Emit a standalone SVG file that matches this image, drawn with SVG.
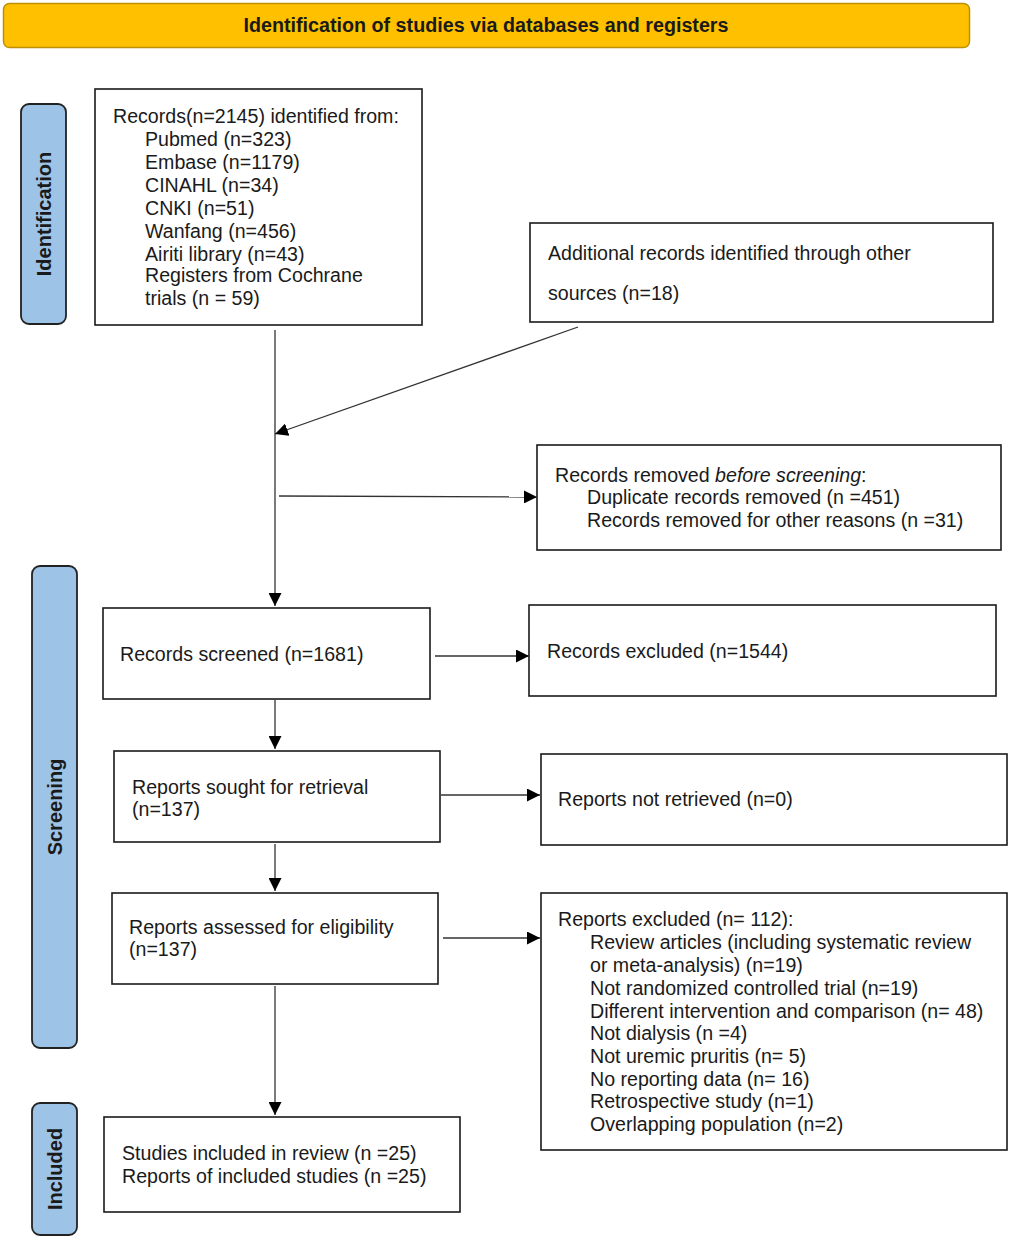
<svg xmlns="http://www.w3.org/2000/svg" width="1010" height="1238" viewBox="0 0 1010 1238">
<style>
text{font-family:"Liberation Sans",Arial,sans-serif;font-size:19.6px;fill:#1a1a1a}
.box{fill:#fff;stroke:#1a1a1a;stroke-width:1.6}
.side{fill:#9DC3E6;stroke:#222;stroke-width:1.8}
.side-t{font-weight:bold;font-size:20px}
.con{stroke:#333;stroke-width:1.3;fill:none;marker-end:url(#ah)}
</style>
<defs>
<marker id="ah" viewBox="0 0 10 10" refX="10" refY="5" markerWidth="13" markerHeight="13" markerUnits="userSpaceOnUse" orient="auto">
<path d="M0,0 L10,5 L0,10 z" fill="#000"/>
</marker>
</defs>
<rect width="1010" height="1238" fill="#fff"/>
<g id="title">
<rect x="3.5" y="3.5" width="966" height="44" rx="6" fill="#FFC000" stroke="#BF9000" stroke-width="1.5"/>
<text x="486" y="32" text-anchor="middle" font-weight="bold" font-size="18" fill="#111" textLength="485" lengthAdjust="spacingAndGlyphs">Identification of studies via databases and registers</text>
</g>
<g id="side-identification">
<rect class="side" x="21" y="104" width="45" height="220" rx="8"/>
<text class="side-t" transform="translate(51,214) rotate(-90)" text-anchor="middle">Identification</text>
</g>
<g id="side-screening">
<rect class="side" x="32" y="566" width="45" height="482" rx="8"/>
<text class="side-t" transform="translate(62,807) rotate(-90)" text-anchor="middle">Screening</text>
</g>
<g id="side-included">
<rect class="side" x="32" y="1103" width="45" height="132" rx="8"/>
<text class="side-t" transform="translate(62,1169) rotate(-90)" text-anchor="middle">Included</text>
</g>
<g id="records">
<rect class="box" x="95" y="89" width="327" height="236"/>
<text x="113" y="123">Records(n=2145) identified from:</text>
<text x="145" y="146">Pubmed (n=323)</text>
<text x="145" y="169">Embase (n=1179)</text>
<text x="145" y="192">CINAHL (n=34)</text>
<text x="145" y="215">CNKI (n=51)</text>
<text x="145" y="238">Wanfang (n=456)</text>
<text x="145" y="261">Airiti library (n=43)</text>
<text x="145" y="282">Registers from Cochrane</text>
<text x="145" y="305">trials (n = 59)</text>
</g>
<g id="additional">
<rect class="box" x="530" y="223" width="463" height="99"/>
<text x="548" y="260">Additional records identified through other</text>
<text x="548" y="300">sources (n=18)</text>
</g>
<g id="removed">
<rect class="box" x="537" y="445" width="464" height="105"/>
<text x="555" y="482">Records removed <tspan font-style="italic">before screening</tspan>:</text>
<text x="587" y="504">Duplicate records removed (n =451)</text>
<text x="587" y="527">Records removed for other reasons (n =31)</text>
</g>
<g id="screened">
<rect class="box" x="103" y="608" width="327" height="91"/>
<text x="120" y="661">Records screened (n=1681)</text>
</g>
<g id="excluded">
<rect class="box" x="529" y="605" width="467" height="91"/>
<text x="547" y="658">Records excluded (n=1544)</text>
</g>
<g id="sought">
<rect class="box" x="114" y="751" width="326" height="91"/>
<text x="132" y="794">Reports sought for retrieval</text>
<text x="132" y="816">(n=137)</text>
</g>
<g id="notretrieved">
<rect class="box" x="541" y="754" width="466" height="91"/>
<text x="558" y="806">Reports not retrieved (n=0)</text>
</g>
<g id="assessed">
<rect class="box" x="112" y="893" width="326" height="91"/>
<text x="129" y="934">Reports assessed for eligibility</text>
<text x="129" y="956">(n=137)</text>
</g>
<g id="reportsexcluded">
<rect class="box" x="541" y="893" width="466" height="257"/>
<text x="558" y="926">Reports excluded (n= 112):</text>
<text x="590" y="949">Review articles (including systematic review</text>
<text x="590" y="972">or meta-analysis) (n=19)</text>
<text x="590" y="995">Not randomized controlled trial (n=19)</text>
<text x="590" y="1018">Different intervention and comparison (n= 48)</text>
<text x="590" y="1040">Not dialysis (n =4)</text>
<text x="590" y="1063">Not uremic pruritis (n= 5)</text>
<text x="590" y="1086">No reporting data (n= 16)</text>
<text x="590" y="1108">Retrospective study (n=1)</text>
<text x="590" y="1131">Overlapping population (n=2)</text>
</g>
<g id="included">
<rect class="box" x="104" y="1117" width="356" height="95"/>
<text x="122" y="1160">Studies included in review (n =25)</text>
<text x="122" y="1183">Reports of included studies (n =25)</text>
</g>
<g id="connectors">
<line class="con" x1="275" y1="330" x2="275" y2="606"/>
<line class="con" x1="578" y1="327" x2="275" y2="434"/>
<line class="con" x1="279" y1="496" x2="537" y2="497"/>
<line class="con" x1="435" y1="656" x2="529" y2="656"/>
<line class="con" x1="275" y1="700" x2="275" y2="749"/>
<line class="con" x1="441" y1="795" x2="540" y2="795"/>
<line class="con" x1="275" y1="844" x2="275" y2="891"/>
<line class="con" x1="443" y1="938" x2="540" y2="938"/>
<line class="con" x1="275" y1="986" x2="275" y2="1115"/>
</g>
</svg>
